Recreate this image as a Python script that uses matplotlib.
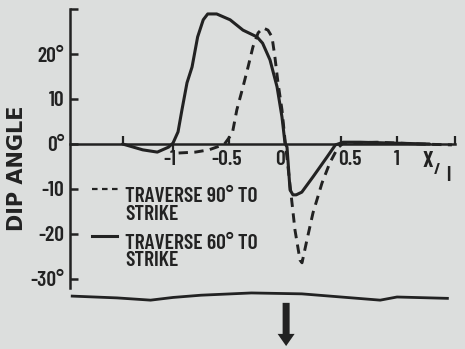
import matplotlib
matplotlib.use("Agg")
import matplotlib.pyplot as plt
import matplotlib.lines as mlines
from matplotlib.patches import FancyArrow

# ---- data ----
solid_x = [-1.45, -1.27, -1.14, -1.04, -1.0, -0.955, -0.92, -0.875, -0.83, -0.78, -0.73, -0.69,
           -0.61, -0.49, -0.375, -0.25, -0.2, -0.134, -0.071, -0.027, 0.0, 0.018, 0.045, 0.071,
           0.1, 0.15, 0.25, 0.375, 0.45, 0.52, 0.67, 0.96, 1.29]
solid_y = [0, -1.3, -1.8, -0.7, 0.2, 2.7, 7.6, 13.6, 17.1, 23.8, 27.6, 28.9,
           28.9, 27.6, 25.3, 23.8, 22.4, 18.7, 12.7, 6.0, 0.2, -0.7, -10.2, -11.3,
           -11.3, -10.7, -7.3, -2.9, -0.2, 0.4, 0.4, 0.2, 0]
dash_x = [-0.95, -0.8, -0.68, -0.6, -0.54, -0.47, -0.43, -0.375, -0.33, -0.286, -0.24, -0.196,
          -0.152, -0.116, -0.09, -0.0625, -0.027, 0.0, 0.0625, 0.089, 0.134, 0.152, 0.196,
          0.25, 0.33, 0.40, 0.47, 0.52, 0.82, 1.2, 1.49]
dash_y = [-2.0, -1.8, -1.3, -0.6, 0.0, 2.4, 7.6, 12.7, 17.1, 21.6, 24.7, 25.8,
          25.3, 23.8, 19.3, 13.6, 7.6, 0.9, -13.1, -19.1, -25.8, -26.4, -21.3,
          -15.3, -8.7, -4.2, -0.9, 0.2, 0.4, 0.0, -0.2]

ytick_vals = [-30, -20, -10, 0, 10, 20, 30]
ytick_labels = ["-30°", "-20", "-10", "0°", "10", "20°", ""]
xtick_vals = [-1.45, -1.0, -0.5, 0.5, 1.0, 1.52]
xlabel_vals = [-1.03, -0.52, -0.045, 0.58, 1.0]
xlabel_texts = ["-1", "-0.5", "0", "0.5", "1"]
legend_labels = ["TRAVERSE 90° TO\nSTRIKE", "TRAVERSE 60° TO\nSTRIKE"]

# decorative ground line (wavy) below chart
wave_x = [-1.9, -1.5, -1.2, -1.0, -0.75, -0.3, 0.15, 0.6, 0.85, 1.0, 1.45]
wave_y = [-33.8, -34.2, -34.7, -34.1, -33.6, -33.1, -33.3, -34.2, -34.7, -34.0, -34.3]

BG = "#dcdedd"
INK = "#222222"
FONT = ["Barlow Condensed", "DejaVu Sans"]
FS = 15.5
FW = 600

fig = plt.figure(figsize=(4.65, 3.49), dpi=100, facecolor=BG)
ax = fig.add_axes([0, 0, 1, 1], facecolor=BG)
ax.set_xlim(-285 / 112, 180 / 112)
ax.set_ylim(-205 / 4.5, 144 / 4.5)

ax.plot(solid_x, solid_y, color=INK, lw=2.2, solid_capstyle="round", solid_joinstyle="round")
ax.plot(dash_x, dash_y, color=INK, lw=2.1, dashes=(3.2, 2.2))

# spines
for s in ["top", "right"]:
    ax.spines[s].set_visible(False)
ax.spines["left"].set_position(("data", -1.92))
ax.spines["left"].set_bounds(-32, 30)
ax.spines["bottom"].set_position(("data", 0))
ax.spines["bottom"].set_bounds(-1.92, 1.52)
for s in ["left", "bottom"]:
    ax.spines[s].set_color(INK)
    ax.spines[s].set_linewidth(1.8)

ax.set_yticks(ytick_vals)
ax.set_yticklabels(ytick_labels, fontsize=FS, color=INK, family=FONT, fontweight=FW)
ax.tick_params(axis="y", direction="in", length=6, width=1.8, color=INK, pad=4)

ax.set_xticks(xtick_vals)
ax.set_xticklabels([""] * len(xtick_vals))
ax.tick_params(axis="x", direction="in", length=6, width=1.6, color=INK)
ax.xaxis.get_major_ticks()[1].tick1line.set_marker(mlines.TICKDOWN)

for v, t in zip(xlabel_vals, xlabel_texts):
    ax.text(v, -1.3, t, ha="center", va="top", fontsize=FS, color=INK, family=FONT,
            fontweight=FW)
ax.text(1.277, -3.8, "X", ha="center", va="center", fontsize=16, color=INK, family=FONT,
        fontweight=700)
ax.text(1.36, -5.8, "/", ha="center", va="center", fontsize=11, color=INK, family=FONT,
        fontweight=700)
ax.text(1.455, -7.1, "l", ha="center", va="center", fontsize=FS, color=INK, family=FONT,
        fontweight=FW)

ax.text(-2.39, -5.3, "DIP ANGLE", rotation=90, ha="center", va="center", fontsize=15,
        fontweight="bold", color=INK, family=["DejaVu Sans"])

# legend
ax.plot([-1.72, -1.49], [-10, -10], color=INK, lw=1.6, dashes=(2.5, 2))
ax.plot([-1.72, -1.5], [-20.4, -20.4], color=INK, lw=2.2)
ax.text(-1.43, -13.6, legend_labels[0], ha="left", va="center", fontsize=FS, color=INK,
        family=FONT, fontweight=FW, linespacing=0.92)
ax.text(-1.43, -24.0, legend_labels[1], ha="left", va="center", fontsize=FS, color=INK,
        family=FONT, fontweight=FW, linespacing=0.92)

ax.plot(wave_x, wave_y, color=INK, lw=2.0)
ax.add_patch(FancyArrow(0.01, -35.3, 0, -9.6, width=7 / 112, head_width=17 / 112,
                        head_length=2.7, length_includes_head=True, color=INK, lw=0))

fig.savefig("out.png", dpi=100, facecolor=BG)
